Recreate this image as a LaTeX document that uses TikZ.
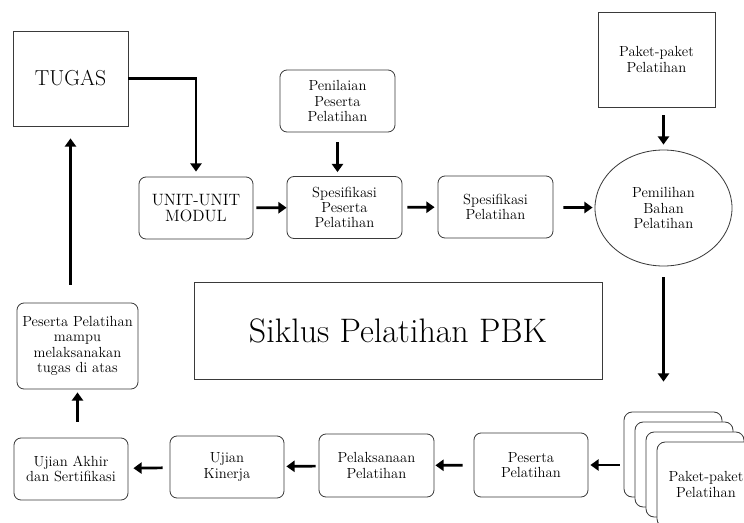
\documentclass[tikz,border=0pt]{standalone}
\usepackage{xcolor}
\usepackage{tikz}
\usetikzlibrary{arrows.meta, positioning, calc, shapes.geometric}
\definecolor{garis}{HTML}{3a3a3a}

\begin{document}
\begin{tikzpicture}[x=0.03cm, y=-0.03cm,
    every node/.style={font=\fontsize{12.5}{13}\selectfont, align=center},
    kotak/.style={
        rectangle, draw=garis, line width=0.7pt,
        inner sep=2pt,
    },
    kotakbulat/.style={
        kotak, rounded corners=6pt,
    },
    halaman/.style={
        kotak, rounded corners=7pt, fill=white,
        minimum width=2.94cm, minimum height=2.55cm,
    },
    panah/.style={
        draw=black, line width=2.3pt,
        -{Triangle[length=7pt, width=9.5pt]},
    },
]
\useasboundingbox (0,0) rectangle (744,522);

% ── Baris atas ─────────────────────────────────────────────────────────
\node[kotak, minimum width=3.45cm, minimum height=2.85cm,
      font=\fontsize{18.5}{20}\selectfont] (tugas) at (70.5, 78.5) {TUGAS};
\node[kotakbulat, minimum width=3.42cm, minimum height=1.86cm,
      font=\fontsize{14}{14}\selectfont] (unit) at (196, 208) {UNIT-UNIT\\MODUL};
\node[kotakbulat, minimum width=3.45cm, minimum height=1.86cm] (penilaian) at (337.5, 101)
    {Penilaian\\Peserta\\Pelatihan};
\node[kotakbulat, minimum width=3.45cm, minimum height=1.86cm] (spespeserta) at (344.5, 207.5)
    {Spesifikasi\\Peserta\\Pelatihan};
\node[kotakbulat, minimum width=3.45cm, minimum height=1.86cm] (spespelatihan) at (495.5, 207)
    {Spesifikasi\\Pelatihan};
\node[ellipse, draw=garis, line width=0.7pt, inner sep=0pt,
      minimum width=4.11cm, minimum height=3.48cm] (pemilihan) at (663.5, 208)
    {Pemilihan\\Bahan\\Pelatihan};
\node[kotak, minimum width=3.51cm, minimum height=2.85cm] (paketatas) at (656.5, 59.5)
    {Paket-paket\\Pelatihan};

% ── Judul ──────────────────────────────────────────────────────────────
\node[kotak, minimum width=12.24cm, minimum height=2.91cm,
      font=\fontsize{29}{32}\selectfont] (judul) at (398, 330.5) {Siklus Pelatihan PBK};

% ── Kiri ───────────────────────────────────────────────────────────────
\node[kotakbulat, minimum width=3.63cm, minimum height=2.58cm] (mampu) at (77.5, 346)
    {Peserta Pelatihan\\mampu\\melaksanakan\\tugas di atas};

% ── Baris bawah ────────────────────────────────────────────────────────
\foreach \i in {0,1,2}
    \node[halaman] (hal\i) at (673+11*\i, 454.5+10*\i) {};
\node[halaman] (hal3) at (706, 484.5) {Paket-paket\\Pelatihan};
\node[kotakbulat, minimum width=3.42cm, minimum height=1.92cm] (peserta) at (531, 465)
    {Peserta\\Pelatihan};
\node[kotakbulat, minimum width=3.45cm, minimum height=1.89cm] (pelaksanaan) at (376.5, 465.5)
    {Pelaksanaan\\Pelatihan};
\node[kotakbulat, minimum width=3.42cm, minimum height=1.86cm] (kinerja) at (227, 467)
    {Ujian\\Kinerja};
\node[kotakbulat, minimum width=3.42cm, minimum height=1.86cm] (akhir) at (71, 469)
    {Ujian Akhir\\dan Sertifikasi};

% ── Panah ──────────────────────────────────────────────────────────────
\draw[panah, shorten >=1.5mm] (tugas.east) -| (unit.north);
\draw[panah, shorten <=3mm, shorten >=1.2mm] (penilaian.south) -- (penilaian.south |- spespeserta.north);
\draw[panah, shorten <=0.9mm] (unit) -- (spespeserta);
\draw[panah, shorten <=1.5mm, shorten >=0.9mm] (spespeserta) -- (spespelatihan);
\draw[panah, shorten <=3mm, shorten >=0.6mm] (spespelatihan) -- (pemilihan);
\draw[panah, shorten <=2.4mm, shorten >=1.5mm] (pemilihan.north |- paketatas.south) -- (pemilihan.north);
\draw[panah, shorten <=3.3mm, shorten >=9mm] (pemilihan.south) -- (pemilihan.south |- hal0.north);
\draw[panah, shorten <=1.2mm, shorten >=0.6mm] (peserta.east -| hal0.west) -- (peserta.east);
\draw[panah, shorten <=3.3mm, shorten >=0.3mm] (peserta) -- (pelaksanaan);
\draw[panah, shorten <=0.9mm, shorten >=0.6mm] (pelaksanaan) -- (kinerja);
\draw[panah, shorten <=2.1mm, shorten >=1.5mm] (kinerja) -- (akhir);
\draw[panah, shorten <=4.8mm, shorten >=0.9mm] (akhir.north -| mampu.south) -- (mampu.south);
\draw[panah, shorten <=5.4mm, shorten >=3.6mm] (tugas.south |- mampu.north) -- (tugas.south);

\end{tikzpicture}
\end{document}
